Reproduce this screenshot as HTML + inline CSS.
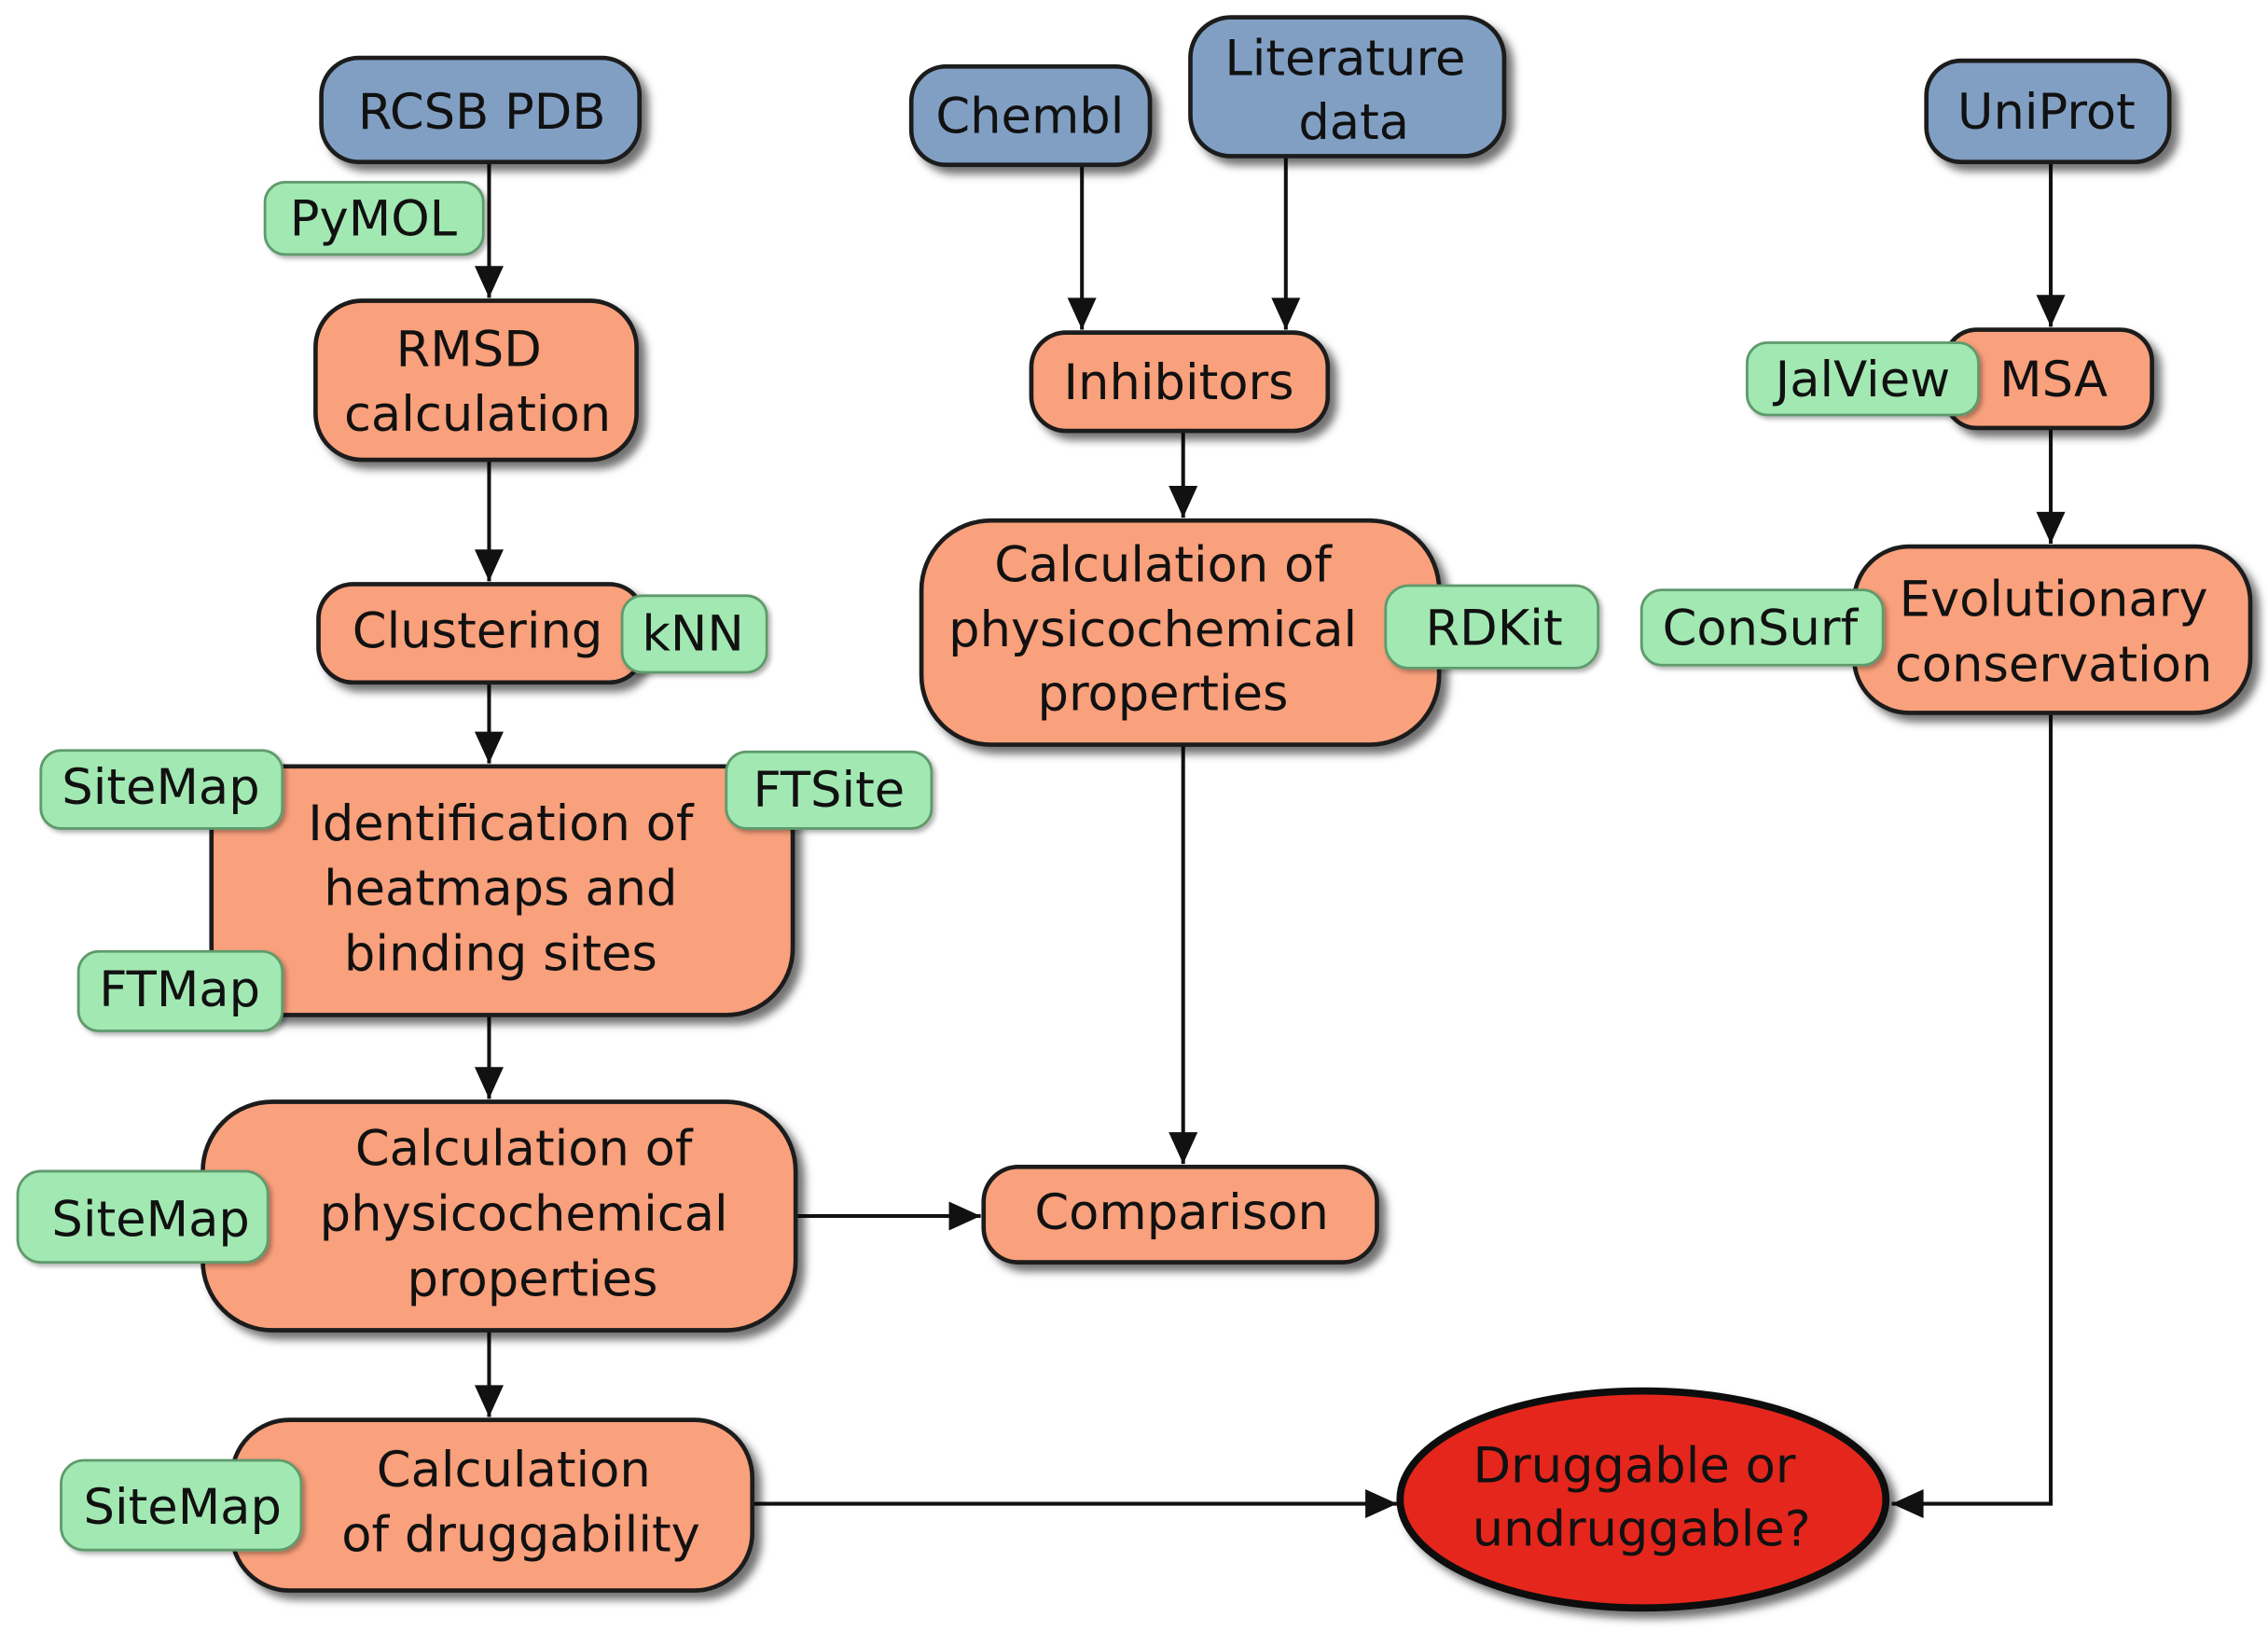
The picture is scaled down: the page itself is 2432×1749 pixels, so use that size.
<!DOCTYPE html>
<html><head><meta charset="utf-8"><style>
html,body{margin:0;padding:0;background:#fff;}
svg{display:block;}
text{font-family:"DejaVu Sans","Liberation Sans",sans-serif;font-size:34px;fill:#111;text-anchor:middle;}
.b{fill:#819fc3;stroke:#1a1a1a;stroke-width:3;}
.o{fill:#f9a07c;stroke:#1a1a1a;stroke-width:3;}
.g{fill:#a2e8b2;stroke:#5e9a6c;stroke-width:1.8;}
.l{stroke:#111;stroke-width:2.6;fill:none;}
.l path{fill:#111;stroke:none;}
</style></head><body>
<svg width="2432" height="1749" viewBox="0 0 1568 1128" xmlns="http://www.w3.org/2000/svg">
<defs>
<filter id="s" x="-20%" y="-20%" width="150%" height="150%"><feDropShadow dx="5" dy="5" stdDeviation="3" flood-color="#000" flood-opacity="0.55"/></filter>
<filter id="s2" x="-20%" y="-20%" width="150%" height="150%"><feDropShadow dx="2" dy="2" stdDeviation="1.5" flood-color="#000" flood-opacity="0.3"/></filter>
</defs>
<g class="l">
<line x1="338" y1="112" x2="338" y2="206"/><path d="M328,184 L338,206 L348,184 z"/>
<line x1="338" y1="318" x2="338" y2="402"/><path d="M328,380 L338,402 L348,380 z"/>
<line x1="338" y1="472" x2="338" y2="528"/><path d="M328,506 L338,528 L348,506 z"/>
<line x1="338" y1="702" x2="338" y2="760"/><path d="M328,738 L338,760 L348,738 z"/>
<line x1="338" y1="920" x2="338" y2="980"/><path d="M328,958 L338,980 L348,958 z"/>
<line x1="550" y1="841" x2="678" y2="841"/><path d="M656,831 L678,841 L656,851 z"/>
<line x1="520" y1="1040" x2="966" y2="1040"/><path d="M944,1030 L966,1040 L944,1050 z"/>
<line x1="748" y1="114" x2="748" y2="228"/><path d="M738,206 L748,228 L758,206 z"/>
<line x1="889" y1="108" x2="889" y2="228"/><path d="M879,206 L889,228 L899,206 z"/>
<line x1="818" y1="298" x2="818" y2="358"/><path d="M808,336 L818,358 L828,336 z"/>
<line x1="818" y1="515" x2="818" y2="805"/><path d="M808,783 L818,805 L828,783 z"/>
<line x1="1418" y1="112" x2="1418" y2="226"/><path d="M1408,204 L1418,226 L1428,204 z"/>
<line x1="1418" y1="296" x2="1418" y2="376"/><path d="M1408,354 L1418,376 L1428,354 z"/>
<polyline points="1418,493 1418,1040 1308,1040"/><path d="M1330,1030 L1308,1040 L1330,1050 z"/>
</g>
<rect class="b" filter="url(#s)" x="222" y="40" width="220" height="72" rx="26"/><text x="333" y="89">RCSB PDB</text>
<rect class="b" filter="url(#s)" x="630" y="46" width="165" height="68" rx="24"/><text x="712" y="92">Chembl</text>
<rect class="b" filter="url(#s)" x="823" y="12" width="217" height="96" rx="28"/><text x="930" y="52">Literature</text><text x="936" y="96">data</text>
<rect class="b" filter="url(#s)" x="1332" y="42" width="168" height="70" rx="24"/><text x="1415" y="89">UniProt</text>
<rect class="o" filter="url(#s)" x="218" y="208" width="222" height="110" rx="32"/><text x="324" y="253">RMSD</text><text x="330" y="298">calculation</text>
<rect class="o" filter="url(#s)" x="220" y="404" width="225" height="68" rx="24"/><text x="330" y="448">Clustering</text>
<rect class="o" filter="url(#s)" x="146" y="530" width="402" height="172" rx="46"/><text x="346" y="581">Identification of</text><text x="346" y="626">heatmaps and</text><text x="346" y="671">binding sites</text>
<rect class="o" filter="url(#s)" x="140" y="762" width="410" height="158" rx="48"/><text x="362" y="806">Calculation of</text><text x="362" y="851">physicochemical</text><text x="368" y="896">properties</text>
<rect class="o" filter="url(#s)" x="160" y="982" width="360" height="118" rx="40"/><text x="355" y="1028">Calculation</text><text x="360" y="1073">of druggability</text>
<rect class="o" filter="url(#s)" x="713" y="230" width="205" height="68" rx="24"/><text x="815" y="276">Inhibitors</text>
<rect class="o" filter="url(#s)" x="637" y="360" width="358" height="155" rx="48"/><text x="804" y="402">Calculation of</text><text x="797" y="447">physicochemical</text><text x="804" y="491">properties</text>
<rect class="o" filter="url(#s)" x="680" y="807" width="272" height="66" rx="24"/><text x="817" y="850">Comparison</text>
<rect class="o" filter="url(#s)" x="1345" y="228" width="143" height="68" rx="22"/><text x="1420" y="274">MSA</text>
<rect class="o" filter="url(#s)" x="1282" y="378" width="274" height="115" rx="38"/><text x="1420" y="426">Evolutionary</text><text x="1420" y="471">conservation</text>
<rect class="g" filter="url(#s2)" x="183" y="126" width="151" height="50" rx="14"/><text x="258" y="163">PyMOL</text>
<rect class="g" filter="url(#s2)" x="430" y="412" width="100" height="53" rx="14"/><text x="479" y="450">kNN</text>
<rect class="g" filter="url(#s2)" x="28" y="519" width="167" height="54" rx="14"/><text x="111" y="556">SiteMap</text>
<rect class="g" filter="url(#s2)" x="502" y="520" width="142" height="53" rx="14"/><text x="573" y="558">FTSite</text>
<rect class="g" filter="url(#s2)" x="54" y="658" width="141" height="55" rx="14"/><text x="124" y="696">FTMap</text>
<rect class="g" filter="url(#s2)" x="12" y="810" width="173" height="63" rx="16"/><text x="104" y="855">SiteMap</text>
<rect class="g" filter="url(#s2)" x="42" y="1010" width="166" height="62" rx="16"/><text x="126" y="1054">SiteMap</text>
<rect class="g" filter="url(#s2)" x="958" y="405" width="147" height="57" rx="16"/><text x="1033" y="446">RDKit</text>
<rect class="g" filter="url(#s2)" x="1208" y="237" width="160" height="50" rx="14"/><text x="1288" y="274">JalView</text>
<rect class="g" filter="url(#s2)" x="1135" y="408" width="167" height="52" rx="14"/><text x="1217" y="446">ConSurf</text>
<ellipse cx="1136" cy="1037" rx="168" ry="75" fill="#e5281b" stroke="#111" stroke-width="5" filter="url(#s)"/>
<text x="1130" y="1025">Druggable or</text><text x="1135" y="1069">undruggable?</text>
</svg>
</body></html>
